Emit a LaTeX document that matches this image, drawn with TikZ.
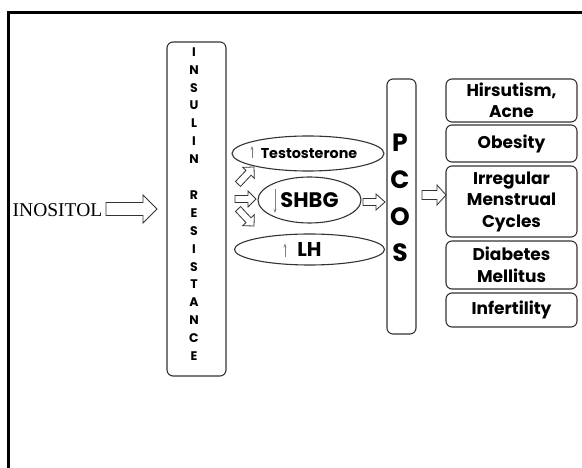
\documentclass[tikz,border=0pt]{standalone}
\usepackage{fontspec}
\setmainfont{Poppins}
\newfontfamily\inofont{Liberation Serif}
\usetikzlibrary{shapes.geometric,calc,arrows.meta}
\newcommand{\barrow}[5]{%
  \coordinate (bh) at ($(#2)!#5!(#1)$);
  \draw[blockarr] ($(#1)!#3!90:(#2)$) -- ($(bh)!#3!90:(#2)$) -- ($(bh)!#4!90:(#2)$) -- (#2)
    -- ($(bh)!#4!-90:(#2)$) -- ($(bh)!#3!-90:(#2)$) -- ($(#1)!#3!-90:(#2)$) -- cycle;}
\begin{document}
\begin{tikzpicture}[x=1pt,y=-1pt,
  box/.style={draw=black!80, line width=1.1pt, rounded corners=6pt, inner sep=0pt},
  ell/.style={draw=black!80, line width=1.1pt, ellipse, inner sep=0pt},
  blockarr/.style={draw=black!80, line width=0.8pt, fill=white, line join=miter},
  upd/.style={draw=black!50, line width=0.7pt, -{Stealth[length=4pt,width=3pt]}},
  lbl/.style={font=\bfseries\fontsize{17}{21.5}\selectfont, align=center, inner sep=0pt}
]
\useasboundingbox (0,0) rectangle (582,468);
\draw[line width=2.5pt] (8.5,470) -- (8.5,12.5) -- (584,12.5);

\node[font=\inofont\fontsize{19.5}{19.5}\selectfont, anchor=west, inner sep=0pt] (ino) at (12.5,210) {INOSITOL};

\node[box, minimum width=59pt, minimum height=334pt] (ir) at (196.5,209) {};
\node[font=\bfseries\fontsize{12.5}{17.9}\selectfont, align=center, inner sep=0pt] (irt) at (194,204)
  {I\\N\\S\\U\\L\\I\\N\\[17.9pt]R\\E\\S\\I\\S\\T\\A\\N\\C\\E};

\node[ell, minimum width=152pt, minimum height=35pt, font=\bfseries\fontsize{14.3}{14.3}\selectfont] (tes) at (308,153.5) {\hspace*{2pt}Testosterone};
\node[ell, minimum width=103pt, minimum height=46pt, font=\bfseries\fontsize{21}{21}\selectfont] (shbg) at (309.5,200) {SHBG};
\node[ell, minimum width=150pt, minimum height=31pt, font=\bfseries\fontsize{20}{20}\selectfont] (lh) at (309.5,249.5) {LH};

\draw[upd] (252,158.5) -- (252,146);
\draw[upd] (275,189.5) -- (275,213);
\draw[upd] (285,257.5) -- (285,243.5);

\node[box, minimum width=29pt, minimum height=255pt] (pcos) at (401.5,206.5) {};
\node[font=\bfseries\fontsize{25}{36.7}\selectfont, align=center, inner sep=0pt] (pct) at (400,198) {P\\C\\O\\S};

\node[box, lbl, minimum width=131pt, minimum height=43pt] (hir) at (511.5,100.5) {Hirsutism,\\Acne};
\node[box, lbl, minimum width=131pt, minimum height=37pt] (obe) at (511.5,143.5) {Obesity};
\node[box, lbl, minimum width=131pt, minimum height=71pt] (irr) at (511.5,201.5) {Irregular\\Menstrual\\Cycles};
\node[box, lbl, minimum width=131pt, minimum height=48pt] (dia) at (511.5,265) {Diabetes\\Mellitus};
\node[box, lbl, minimum width=131pt, minimum height=34pt] (inf) at (511.5,310) {Infertility};

\coordinate (a1t) at (106,209);
\coordinate (a1p) at (157,209);
\barrow{a1t}{a1p}{6.5pt}{14pt}{14pt}

\coordinate (a2t) at (238,184);
\coordinate (a2p) at (254,167);
\barrow{a2t}{a2p}{3.5pt}{8pt}{8pt}
\coordinate (a3t) at (235,199);
\coordinate (a3p) at (256,199);
\barrow{a3t}{a3p}{3.5pt}{8pt}{8pt}
\coordinate (a4t) at (238,209);
\coordinate (a4p) at (254,226);
\barrow{a4t}{a4p}{3.5pt}{8pt}{8pt}

\coordinate (a5t) at (363,202);
\coordinate (a5p) at (385,202);
\barrow{a5t}{a5p}{3.5pt}{8pt}{9pt}

\coordinate (a6t) at (422,195);
\coordinate (a6p) at (446,195);
\barrow{a6t}{a6p}{4.5pt}{10pt}{9pt}
\end{tikzpicture}
\end{document}
